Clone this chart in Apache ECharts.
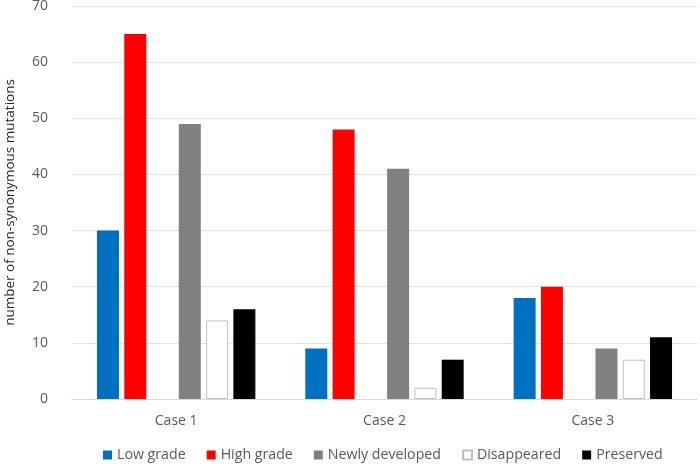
<!DOCTYPE html>
<html>
<head>
<meta charset="utf-8">
<script src="https://cdn.jsdelivr.net/npm/echarts@6/dist/echarts.min.js"></script>
<style>html,body{margin:0;padding:0;background:#fff}#c{width:700px;height:464px}</style>
</head>
<body>
<div id="c"></div>
<script>
var categories = ['Case 1', 'Case 2', 'Case 3'];
var lowGrade = [30, 9, 18];
var highGrade = [65, 48, 20];
var newlyDeveloped = [49, 41, 9];
var disappeared = [14, 2, 7];
var preserved = [16, 7, 11];
var yTicks = {min: 0, max: 70, interval: 10};
var yAxisTitle = 'number of non-synonymous mutations';

var FONT = 'Open Sans';
var chart = echarts.init(document.getElementById('c'), null, {renderer: 'canvas'});
function bar(name, data, color, border) {
  return {
    name: name, type: 'bar', data: data, barWidth: 22, barGap: '24%',
    itemStyle: {color: color, borderColor: border || color, borderWidth: border ? 1 : 0},
    emphasis: {disabled: true}
  };
}
chart.setOption({
  animation: false,
  textStyle: {fontFamily: FONT},
  grid: {left: 72, right: 3, top: 6, bottom: 65, containLabel: false, outerBoundsMode: 'none'},
  legend: {
    top: 443, left: 98, itemWidth: 9, itemHeight: 9, itemGap: 21,
    icon: 'rect',
    data: ['Low grade', 'High grade', 'Newly developed', 'Disappeared', 'Preserved'],
    textStyle: {fontFamily: FONT, fontSize: 14.2, color: '#595959'}
  },
  xAxis: {
    type: 'category', data: categories,
    axisLine: {lineStyle: {color: '#d9d9d9'}},
    axisTick: {show: false},
    axisLabel: {fontFamily: FONT, fontSize: 14, color: '#595959', margin: 15}
  },
  yAxis: {
    type: 'value', min: yTicks.min, max: yTicks.max, interval: yTicks.interval,
    name: yAxisTitle, nameLocation: 'middle', nameGap: 55,
    nameTextStyle: {fontFamily: FONT, fontSize: 13.5, color: '#262626'},
    axisLine: {show: false}, axisTick: {show: false},
    splitLine: {lineStyle: {color: '#e3e3e3'}},
    axisLabel: {fontFamily: FONT, fontSize: 14, color: '#595959', margin: 24}
  },
  series: [
    bar('Low grade', lowGrade, '#0070c0'),
    bar('High grade', highGrade, '#ff0000'),
    {name: 'gap', type: 'bar', data: [null, null, null], barWidth: 22, barGap: '24%'},
    bar('Newly developed', newlyDeveloped, '#808080'),
    bar('Disappeared', disappeared, '#ffffff', '#bfbfbf'),
    bar('Preserved', preserved, '#000000')
  ]
});
</script>
</body>
</html>
